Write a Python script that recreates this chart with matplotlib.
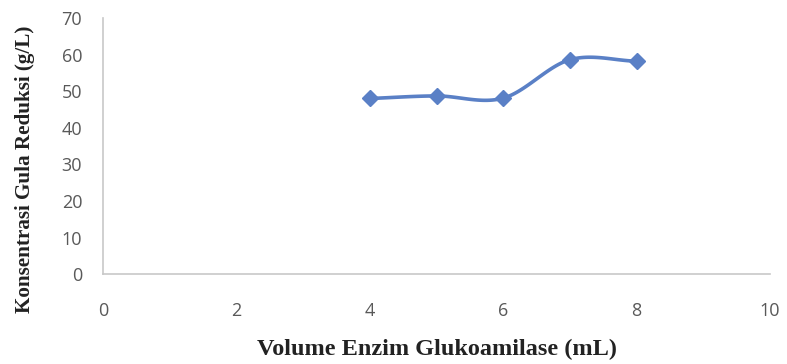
import numpy as np
import matplotlib
matplotlib.use("Agg")
import matplotlib.pyplot as plt

# volume enzim (mL) vs konsentrasi gula reduksi (g/L)
volume = [4, 5, 6, 7, 8]
konsentrasi = [48.0, 48.7, 48.1, 58.6, 58.2]

LINE = "#5a80c6"
GRID = "#c8c8c8"
TICK = "#595959"


def smooth(x, y, n=30):
    # Catmull-Rom lewat titik data, mirip garis "smoothed" Excel
    x = np.asarray(x, float); y = np.asarray(y, float)
    px = np.concatenate([[2 * x[0] - x[1]], x, [2 * x[-1] - x[-2]]])
    py = np.concatenate([[2 * y[0] - y[1]], y, [2 * y[-1] - y[-2]]])
    xs, ys = [], []
    t = np.linspace(0, 1, n)
    for i in range(1, len(px) - 2):
        for p, out in ((px, xs), (py, ys)):
            p0, p1, p2, p3 = p[i - 1], p[i], p[i + 1], p[i + 2]
            out.extend(0.5 * ((2 * p1) + (-p0 + p2) * t
                              + (2 * p0 - 5 * p1 + 4 * p2 - p3) * t ** 2
                              + (-p0 + 3 * p1 - 3 * p2 + p3) * t ** 3))
    return xs, ys


fig = plt.figure(figsize=(7.87, 3.64), dpi=100)
ax = fig.add_axes([0.1309, 0.247, 0.8475, 0.7035])

sx, sy = smooth(volume, konsentrasi)
ax.plot(sx, sy, color=LINE, lw=2.6, solid_capstyle="round", zorder=3)
ax.plot(volume, konsentrasi, "D", color=LINE, markersize=8.5, zorder=4)

ax.set_xlim(0, 10)
ax.set_ylim(0, 70)
ax.set_xticks(range(0, 11, 2))
ax.set_yticks(range(0, 71, 10))
for s in ("top", "right"):
    ax.spines[s].set_visible(False)
for s in ("left", "bottom"):
    ax.spines[s].set_color(GRID)
    ax.spines[s].set_linewidth(1.2)
ax.tick_params(length=0, labelsize=13, labelcolor=TICK)
ax.tick_params(axis="x", pad=20)
ax.tick_params(axis="y", pad=15)
for lab in ax.get_xticklabels() + ax.get_yticklabels():
    lab.set_family("Open Sans")

ax.set_xlabel("Volume Enzim Glukoamilase (mL)", family="Liberation Serif",
              fontweight="bold", fontsize=17.5, color="#222222", labelpad=14)
ax.set_ylabel("Konsentrasi Gula Reduksi (g/L)", family="Liberation Serif",
              fontweight="bold", fontsize=15.2, color="#222222")
ax.yaxis.set_label_coords(-0.102, 0.41)

fig.savefig("out.png", dpi=100)
